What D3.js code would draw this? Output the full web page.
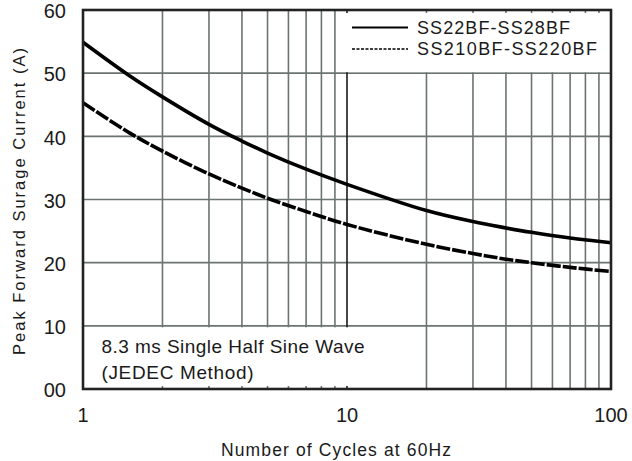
<!DOCTYPE html>
<html><head><meta charset="utf-8">
<script src="https://cdn.jsdelivr.net/npm/d3@7"></script>
<style>body{margin:0;background:#fff}svg{display:block}text{font-family:"Liberation Sans",Arial,sans-serif;fill:#1a1a1a}</style>
</head><body><svg id="c" width="632" height="461"></svg>
<script>
const cycles = [1, 1.5, 2, 3, 4, 5, 7, 10, 20, 30, 40, 50, 70, 100];
const ss22_28 = [54.9, 49.6, 46.25, 41.9, 39.25, 37.35, 34.8, 32.4, 28.25, 26.5, 25.5, 24.8, 23.9, 23.15];
const ss210_220 = [45.3, 40.55, 37.65, 34.05, 31.8, 30.2, 28.1, 26.05, 22.9, 21.45, 20.55, 20.0, 19.25, 18.6];
const seriesNames = ["SS22BF-SS28BF", "SS210BF-SS220BF"];
const yTicks = [0, 10, 20, 30, 40, 50, 60];
const yTickLabels = ["00", "10", "20", "30", "40", "50", "60"];
const xTicks = [1, 10, 100];
const xTickLabels = ["1", "10", "100"];
const xGrid = [2,3,4,5,6,7,8,9,10,20,30,40,50,60,70,80,90];
const noteLines = ["8.3 ms Single Half Sine Wave", "(JEDEC Method)"];

const L = 83, R = 611, T = 10, B = 389;
const svg = d3.select("#c");
const x = d3.scaleLog().domain([1, 100]).range([L, R]);
const y = d3.scaleLinear().domain([0, 60]).range([B, T]);

const grid = svg.append("g");
grid.selectAll("line.h").data(yTicks.slice(1, -1)).join("line")
  .attr("x1", L).attr("x2", R).attr("y1", d => y(d)).attr("y2", d => y(d))
  .attr("stroke", "#6b7471").attr("stroke-width", 1.6);
grid.selectAll("line.v").data(xGrid).join("line")
  .attr("x1", d => x(d)).attr("x2", d => x(d)).attr("y1", T).attr("y2", B)
  .attr("stroke", d => d === 10 ? "#1a1a1a" : "#6b7471").attr("stroke-width", 1.6);

// white boxes for legend and note
svg.append("rect").attr("x", x(10) - 1).attr("y", T + 3).attr("width", R - x(10) + 1).attr("height", y(50) - T - 4).attr("fill", "#fff");
svg.append("rect").attr("x", L).attr("y", y(10) + 1.5).attr("width", 290).attr("height", B - y(10) - 4.5).attr("fill", "#fff");

// curves
const line = d3.line().x(d => x(d[0])).y(d => y(d[1])).curve(d3.curveCatmullRom.alpha(0.5));
svg.append("path").attr("d", line(cycles.map((c, i) => [c, ss22_28[i]])))
  .attr("fill", "none").attr("stroke", "#000").attr("stroke-width", 3.6);
svg.append("path").attr("d", line(cycles.map((c, i) => [c, ss210_220[i]])))
  .attr("fill", "none").attr("stroke", "#000").attr("stroke-width", 3.6)
  .attr("stroke-dasharray", "14,2");

// frame
svg.append("rect").attr("x", L).attr("y", T).attr("width", R - L).attr("height", B - T)
  .attr("fill", "none").attr("stroke", "#222").attr("stroke-width", 2.6);

// y ticks
svg.selectAll("text.yt").data(yTicks).join("text")
  .attr("x", 66).attr("y", d => y(d) + 1).attr("dy", "0.36em").attr("text-anchor", "end")
  .attr("font-size", 20).text((d, i) => yTickLabels[i]);
// x ticks
svg.selectAll("text.xt").data(xTicks).join("text")
  .attr("x", d => x(d)).attr("y", 415).attr("dy", "0.36em").attr("text-anchor", "middle")
  .attr("font-size", 20).text((d, i) => xTickLabels[i]);

// axis titles
svg.append("text").attr("x", 221).attr("y", 450).attr("dy", "0.36em")
  .attr("font-size", 17.5).attr("textLength", 230).attr("lengthAdjust", "spacing")
  .text("Number of Cycles at 60Hz");
svg.append("text").attr("transform", "translate(19,355) rotate(-90)").attr("dy", "0.36em")
  .attr("font-size", 16.5).attr("textLength", 307).attr("lengthAdjust", "spacing")
  .text("Peak Forward Surage Current (A)");

// legend
const legendW = [153, 180];
[0, 1].forEach(i => {
  const yy = 27.5 + i * 21.5;
  svg.append("line").attr("x1", 352).attr("x2", 408).attr("y1", yy).attr("y2", yy)
    .attr("stroke", "#000").attr("stroke-width", i ? 1.4 : 1.8)
    .attr("stroke-dasharray", i ? "3,1.5" : null);
  svg.append("text").attr("x", 417).attr("y", yy).attr("dy", "0.36em").attr("font-size", 18)
    .attr("textLength", legendW[i]).attr("lengthAdjust", "spacing").text(seriesNames[i]);
});

// note
const noteW = [263, 152];
svg.selectAll("text.note").data(noteLines).join("text")
  .attr("x", 101.5).attr("y", (d, i) => 346.5 + i * 25.5).attr("dy", "0.36em")
  .attr("font-size", 19).attr("textLength", (d, i) => noteW[i]).attr("lengthAdjust", "spacing")
  .text(d => d);
</script></body></html>
